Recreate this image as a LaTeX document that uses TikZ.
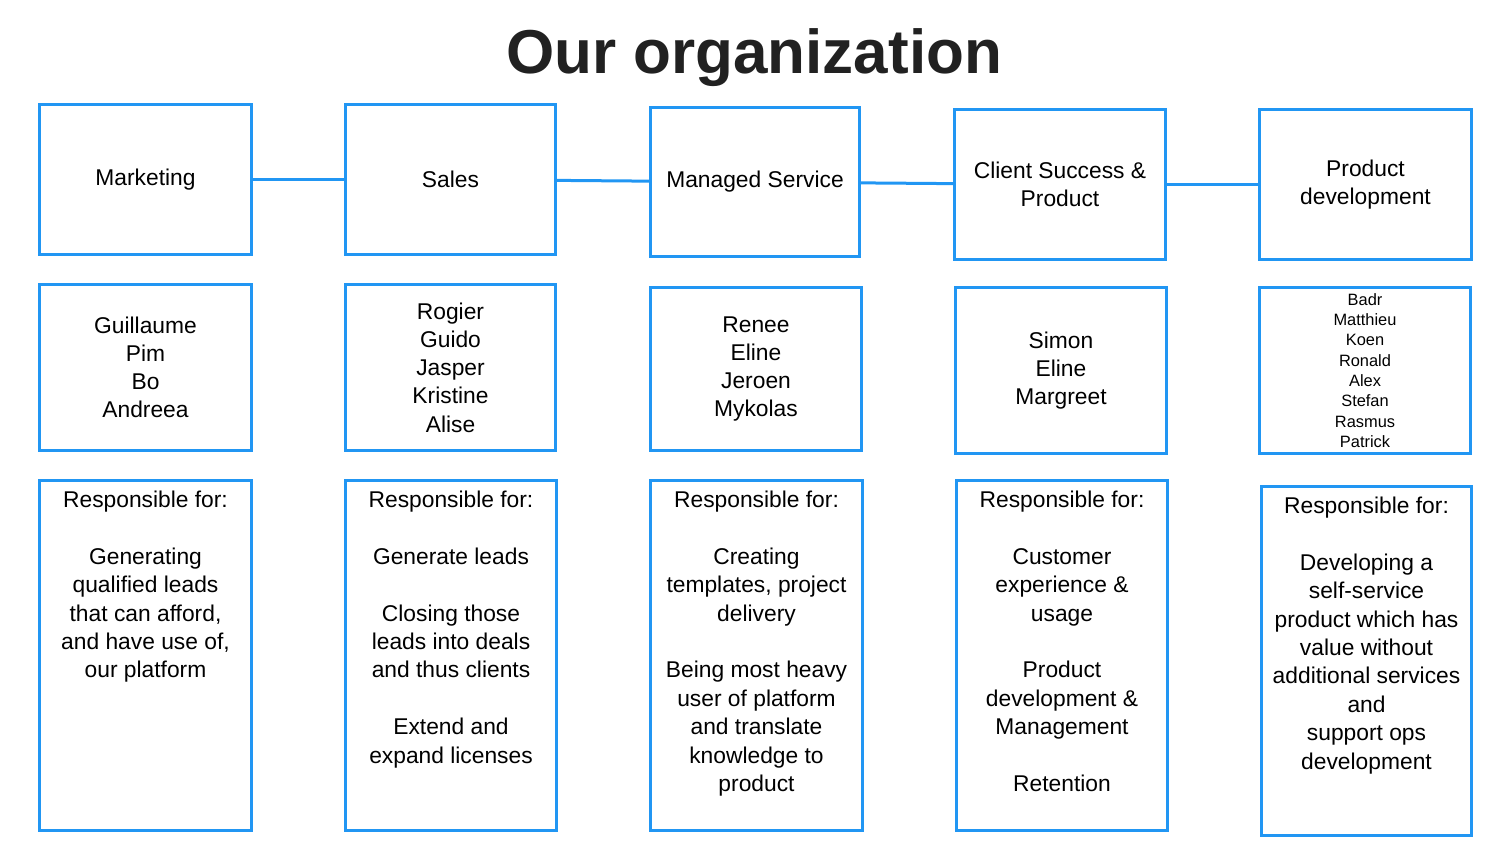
\documentclass[tikz,border=0pt]{standalone}
\usepackage{fontspec}
\setmainfont{Liberation Sans}
\usepackage{tikz}

\definecolor{boxblue}{HTML}{2196F3}
\definecolor{titlegray}{HTML}{212121}

\begin{document}
\begin{tikzpicture}[x=0.5pt, y=-0.5pt,
	box/.style={rectangle, draw=boxblue, line width=1.5pt, inner sep=0pt, align=center, font=\fontsize{11.4}{14.1}\selectfont},
	smallnames/.style={align=center, inner sep=0pt, font=\fontsize{8.2}{10.15}\selectfont},
	resp/.style={anchor=north, align=center, inner sep=0pt, font=\fontsize{11.4}{14.2}\selectfont},
	every path/.style={draw=boxblue, line width=1.5pt}]
				\useasboundingbox[draw=none] (0,0) rectangle (1508,848);
				
				\node[draw=none, font=\fontsize{31}{36}\bfseries\selectfont, text=titlegray] (title) at (754,58){Our organization};
				
				\node[box, minimum width=106pt, minimum height=75pt] (mkt) at (145.5,179.5){\raisebox{-1.5pt}{Marketing}};
				\node[box, minimum width=105pt, minimum height=75pt] (sales) at (450.5,179.5){Sales};
				\node[box, minimum width=104.5pt, minimum height=74.5pt] (ms) at (755,182){Managed Service};
				\node[box, minimum width=105.5pt, minimum height=75pt] (cs) at (1060,184.5){Client Success \&\\Product};
				\node[box, minimum width=106pt, minimum height=75pt] (pd) at (1365.5,184.5){Product\\development};
				
				\node[box, minimum width=106pt, minimum height=83pt] (mktppl) at (145.5,367.5){Guillaume\\Pim\\Bo\\Andreea};
				\node[box, minimum width=105pt, minimum height=83pt] (salesppl) at (450.5,367.5){Rogier\\Guido\\Jasper\\Kristine\\Alise};
				\node[box, minimum width=105.5pt, minimum height=81.5pt] (msppl) at (756,369){Renee\\Eline\\Jeroen\\Mykolas};
				\node[box, minimum width=105.5pt, minimum height=83pt] (csppl) at (1061,370.5){Simon\\Eline\\Margreet};
				\node[box, minimum width=105.5pt, minimum height=83pt] (pdppl) at (1365,370.5){};
				\node[smallnames] (pdnames) at (pdppl.center){Badr\\Matthieu\\Koen\\Ronald\\Alex\\Stefan\\Rasmus\\Patrick};
				
				\node[box, minimum width=106pt, minimum height=175pt] (mktresp) at (145.5,655.5){};
				\node[box, minimum width=105.5pt, minimum height=175pt] (salesresp) at (451,655.5){};
				\node[box, minimum width=106pt, minimum height=175pt] (msresp) at (756.5,655.5){};
				\node[box, minimum width=105.5pt, minimum height=175pt] (csresp) at (1062,655.5){};
				\node[box, minimum width=105pt, minimum height=174.5pt] (pdresp) at (1366.5,661){};
				
				\node[resp] (mkttext) at ([yshift=-5.25pt]mktresp.north){Responsible for:\\[14.2pt]Generating\\qualified leads\\that can afford,\\and have use of,\\our platform};
				\node[resp] (salestext) at ([yshift=-5.25pt]salesresp.north){Responsible for:\\[14.2pt]Generate leads\\[14.2pt]Closing those\\leads into deals\\and thus clients\\[14.2pt]Extend and\\expand licenses};
				\node[resp] (mstext) at ([yshift=-5.25pt]msresp.north){Responsible for:\\[14.2pt]Creating\\templates, project\\delivery\\[14.2pt]Being most heavy\\user of platform\\and translate\\knowledge to\\product};
				\node[resp] (cstext) at ([yshift=-5.25pt]csresp.north){Responsible for:\\[14.2pt]Customer\\experience \&\\usage\\[14.2pt]Product\\development \&\\Management\\[14.2pt]Retention};
				\node[resp] (pdtext) at ([yshift=-5.25pt]pdresp.north){Responsible for:\\[14.2pt]Developing a\\self-service\\product which has\\value without\\additional services\\and\\support ops\\development};
				
				\path (mkt) edge (sales);
				\path (sales) edge (ms);
				\path (ms) edge (cs);
				\path (cs) edge (pd);
				\end{tikzpicture}
\end{document}
